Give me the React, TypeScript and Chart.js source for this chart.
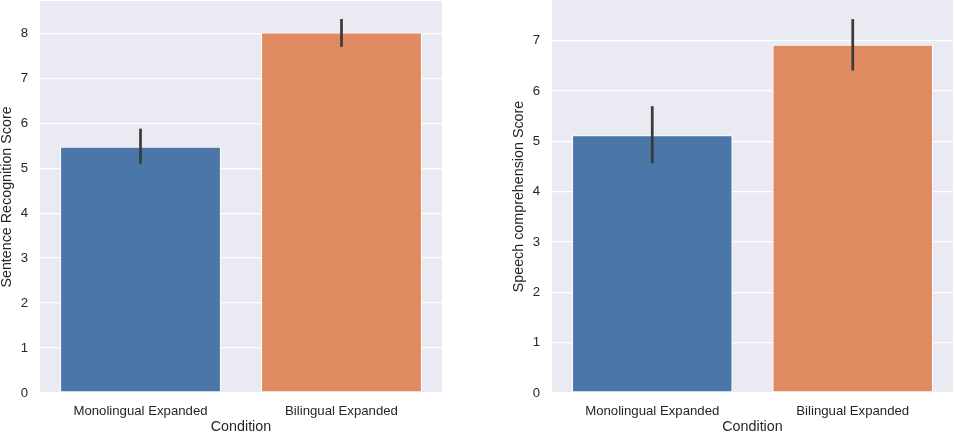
import React, { useEffect, useRef } from "react";
import { Chart, registerables } from "chart.js";

Chart.register(...registerables);

const categories = ["Monolingual Expanded", "Bilingual Expanded"];

const sentenceMeans = [5.48, 8.02];
const sentenceLow = [5.1, 7.7];
const sentenceHigh = [5.88, 8.32];

const speechMeans = [5.12, 6.92];
const speechLow = [4.57, 6.41];
const speechHigh = [5.7, 7.43];

const barColors = ["#4A76A8", "#E08A62"];
const FONT = "'Liberation Sans', Arial, Helvetica, sans-serif";
const TEXT = "#262626";

const bgPlugin = {
  id: "bgPlugin",
  beforeDraw(chart: any) {
    const { ctx, chartArea } = chart;
    ctx.save();
    ctx.fillStyle = "#EAEAF2";
    ctx.fillRect(chartArea.left, chartArea.top, chartArea.right - chartArea.left, chartArea.bottom - chartArea.top);
    ctx.restore();
  },
};

const errPlugin = {
  id: "errPlugin",
  afterDatasetsDraw(chart: any, _args: any, opts: any) {
    const { ctx } = chart;
    const meta = chart.getDatasetMeta(0);
    const y = chart.scales.y;
    ctx.save();
    ctx.strokeStyle = "#3A3A3A";
    ctx.lineWidth = 2.7;
    ctx.lineCap = "butt";
    meta.data.forEach((bar: any, i: number) => {
      ctx.beginPath();
      ctx.moveTo(bar.x, y.getPixelForValue(opts.low[i]));
      ctx.lineTo(bar.x, y.getPixelForValue(opts.high[i]));
      ctx.stroke();
    });
    ctx.restore();
  },
};

function makeConfig(values: number[], low: number[], high: number[], yTitle: string, yMax: number, padLeft: number, padRight: number, padTop: number): any {
  return {
    type: "bar",
    data: {
      labels: categories,
      datasets: [
        {
          data: values,
          backgroundColor: barColors,
          borderColor: "#FFFFFF",
          borderWidth: 1,
          borderSkipped: false,
          categoryPercentage: 1,
          barPercentage: 0.8,
        },
      ],
    },
    options: {
      animation: false,
      responsive: false,
      devicePixelRatio: window.devicePixelRatio || 1,
      layout: { padding: { left: padLeft, right: padRight, top: padTop, bottom: 0 } },
      plugins: {
        legend: { display: false },
        tooltip: { enabled: false },
        errPlugin: { low, high },
      },
      scales: {
        x: {
          grid: { display: false, drawTicks: false },
          border: { display: false },
          ticks: { color: TEXT, font: { family: FONT, size: 13.2 }, padding: 10 },
          title: { display: true, text: "Condition", color: TEXT, font: { family: FONT, size: 14.3, lineHeight: 1 }, padding: 0 },
          afterFit(scale: any) {
            scale.height = 41;
            scale.paddingLeft = 0;
            scale.paddingRight = 0;
          },
        },
        y: {
          min: 0,
          max: yMax,
          grid: { color: "#FFFFFF", lineWidth: 1.3, drawTicks: false },
          border: { display: false },
          ticks: { stepSize: 1, includeBounds: false, color: TEXT, font: { family: FONT, size: 13.2 }, padding: 12 },
          title: { display: true, text: yTitle, color: TEXT, font: { family: FONT, size: 14.3, lineHeight: 1 }, padding: 0 },
          afterFit(scale: any) {
            scale.width = 40;
            scale.paddingTop = 0;
            scale.paddingBottom = 0;
          },
        },
      },
    },
    plugins: [bgPlugin, errPlugin],
  };
}

export default function App() {
  const leftRef = useRef<HTMLCanvasElement>(null);
  const rightRef = useRef<HTMLCanvasElement>(null);

  useEffect(() => {
    document.body.style.margin = "0";
    const c1 = new Chart(leftRef.current as HTMLCanvasElement, makeConfig(sentenceMeans, sentenceLow, sentenceHigh, "Sentence Recognition Score", 8.72, 0, 38, 1));
    const c2 = new Chart(rightRef.current as HTMLCanvasElement, makeConfig(speechMeans, speechLow, speechHigh, "Speech comprehension Score", 7.81, 32, 2, 0));
    return () => {
      c1.destroy();
      c2.destroy();
    };
  }, []);

  return (
    <div style={{ position: "relative", width: 955, height: 434, background: "#FFFFFF" }}>
      <canvas ref={leftRef} width={480} height={434} style={{ position: "absolute", left: 0, top: 0, width: 480, height: 434 }} />
      <canvas ref={rightRef} width={475} height={434} style={{ position: "absolute", left: 480, top: 0, width: 475, height: 434 }} />
    </div>
  );
}
